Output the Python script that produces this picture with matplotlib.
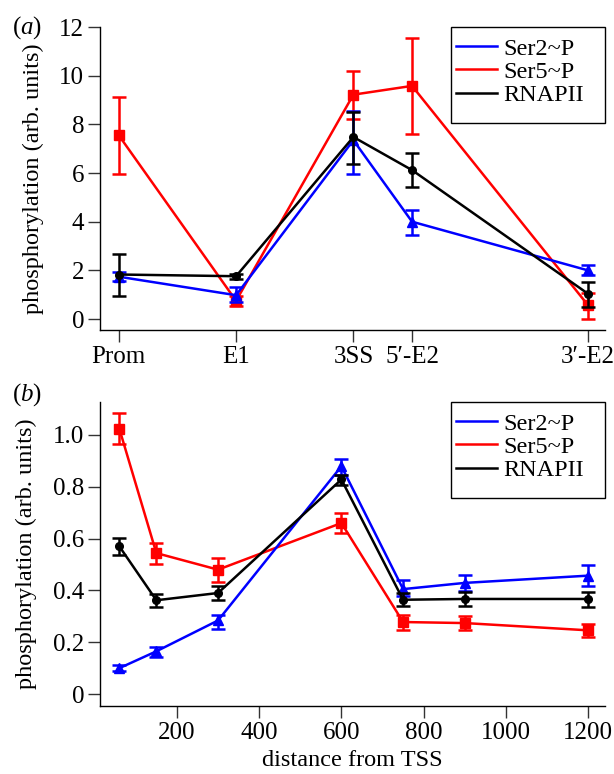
import matplotlib
matplotlib.use("Agg")
import matplotlib.pyplot as plt
from matplotlib.lines import Line2D
from matplotlib.patches import Rectangle
import numpy as np

plt.rcParams['font.family'] = ['Liberation Serif', 'DejaVu Serif']
plt.rcParams['mathtext.fontset'] = 'custom'
plt.rcParams['mathtext.rm'] = 'Liberation Serif'
plt.rcParams['mathtext.it'] = 'Liberation Serif:italic'

# ---------------- panel (a) data ----------------
top_labels = ["Prom", "E1", "3SS", "5\u2032-E2", "3\u2032-E2"]
top_x = [0, 2, 4, 5, 8]

a_ser2 = [1.74, 0.98, 7.35, 4.00, 2.00]
a_ser2_lo = [1.55, 0.70, 5.97, 3.45, 1.80]
a_ser2_hi = [1.93, 1.30, 8.56, 4.50, 2.21]

a_ser5 = [7.55, 0.75, 9.22, 9.58, 0.57]
a_ser5_lo = [5.98, 0.52, 8.23, 7.62, 0.00]
a_ser5_hi = [9.12, 0.95, 10.20, 11.55, 1.05]

a_pol = [1.83, 1.76, 7.48, 6.12, 1.04]
a_pol_lo = [0.96, 1.63, 6.39, 5.41, 0.50]
a_pol_hi = [2.69, 1.87, 8.50, 6.84, 1.54]

# ---------------- panel (b) data ----------------
b_x = [60, 150, 300, 600, 750, 900, 1200]

b_ser2 = [0.100, 0.165, 0.284, 0.879, 0.405, 0.429, 0.457]
b_ser2_lo = [0.088, 0.143, 0.251, 0.847, 0.377, 0.396, 0.416]
b_ser2_hi = [0.113, 0.180, 0.306, 0.907, 0.441, 0.460, 0.497]

b_ser5 = [1.024, 0.544, 0.480, 0.660, 0.278, 0.274, 0.246]
b_ser5_lo = [0.965, 0.502, 0.431, 0.620, 0.248, 0.246, 0.219]
b_ser5_hi = [1.085, 0.583, 0.525, 0.700, 0.306, 0.300, 0.270]

b_pol = [0.570, 0.362, 0.390, 0.828, 0.364, 0.367, 0.367]
b_pol_lo = [0.535, 0.336, 0.362, 0.808, 0.338, 0.341, 0.336]
b_pol_hi = [0.602, 0.386, 0.418, 0.847, 0.390, 0.393, 0.395]

series_names = ["Ser2~P", "Ser5~P", "RNAPII"]
series_colors = ["#0000ff", "#ff0000", "#000000"]
series_markers = ["^", "s", "o"]
series_ms = [7.5, 6.5, 5.5]

fig = plt.figure(figsize=(6.14, 7.74), dpi=100)
ax1 = fig.add_axes([100/614, 1-330/774, 505/614, 303/774])
ax2 = fig.add_axes([100/614, 1-706/774, 505/614, 304/774])


def draw(ax, x, vals, los, his):
    order = [1, 0, 2]
    for i in order:
        v = np.array(vals[i]); lo = np.array(los[i]); hi = np.array(his[i])
        ax.errorbar(x, v, yerr=[v - lo, hi - v], color=series_colors[i],
                    marker=series_markers[i], ms=series_ms[i], lw=1.8,
                    elinewidth=1.8, capsize=5, capthick=1.8,
                    zorder=3 + order.index(i))


draw(ax1, top_x, [a_ser2, a_ser5, a_pol], [a_ser2_lo, a_ser5_lo, a_pol_lo],
     [a_ser2_hi, a_ser5_hi, a_pol_hi])
draw(ax2, b_x, [b_ser2, b_ser5, b_pol], [b_ser2_lo, b_ser5_lo, b_pol_lo],
     [b_ser2_hi, b_ser5_hi, b_pol_hi])

ax1.set_xlim(-0.32, 8.29)
ax1.set_ylim(-0.45, 12)
ax1.set_xticks(top_x)
ax1.set_xticklabels(top_labels)
ax1.set_yticks([0, 2, 4, 6, 8, 10, 12])

ax2.set_xlim(13, 1241)
ax2.set_ylim(-0.046, 1.127)
ax2.set_xticks([200, 400, 600, 800, 1000, 1200])
ax2.set_yticks([0, 0.2, 0.4, 0.6, 0.8, 1.0])
ax2.set_yticklabels(["0", "0.2", "0.4", "0.6", "0.8", "1.0"])
ax2.set_xlabel("distance from TSS", fontsize=17.5, labelpad=4)

for ax, ybot in ((ax1, (330 - 123) / 303), (ax2, (706 - 498) / 304)):
    for s in ("top", "right"):
        ax.spines[s].set_visible(False)
    for s in ("left", "bottom"):
        ax.spines[s].set_linewidth(1.0)
    ax.tick_params(direction="out", length=8.5, width=1.0, pad=3,
                   labelsize=18, color="#333333")
    ax.set_ylabel("phosphorylation (arb. units)", fontsize=17.5, labelpad=11)
    # legend frame
    x0 = (451 - 100) / 505
    ax.add_patch(Rectangle((x0, ybot), 1.0 - x0, 1.0 - ybot,
                           transform=ax.transAxes, facecolor="white",
                           edgecolor="black", lw=1.0, clip_on=False, zorder=10))
    handles = [Line2D([], [], color=c, lw=1.8) for c in series_colors]
    leg = ax.legend(handles, series_names, loc="center left",
                    bbox_to_anchor=((456 - 100) / 505, (ybot + 1.0) / 2 + 0.01),
                    borderaxespad=0, fontsize=17.5, handlelength=1.7,
                    handletextpad=0.25, labelspacing=0.05, borderpad=0,
                    frameon=False)
    leg.set_zorder(11)

fig.text(27/614, 1-28/774, r"($\mathit{a}$)", fontsize=18, ha="center", va="center")
fig.text(27/614, 1-395/774, r"($\mathit{b}$)", fontsize=18, ha="center", va="center")

fig.savefig("out.png", dpi=100)
